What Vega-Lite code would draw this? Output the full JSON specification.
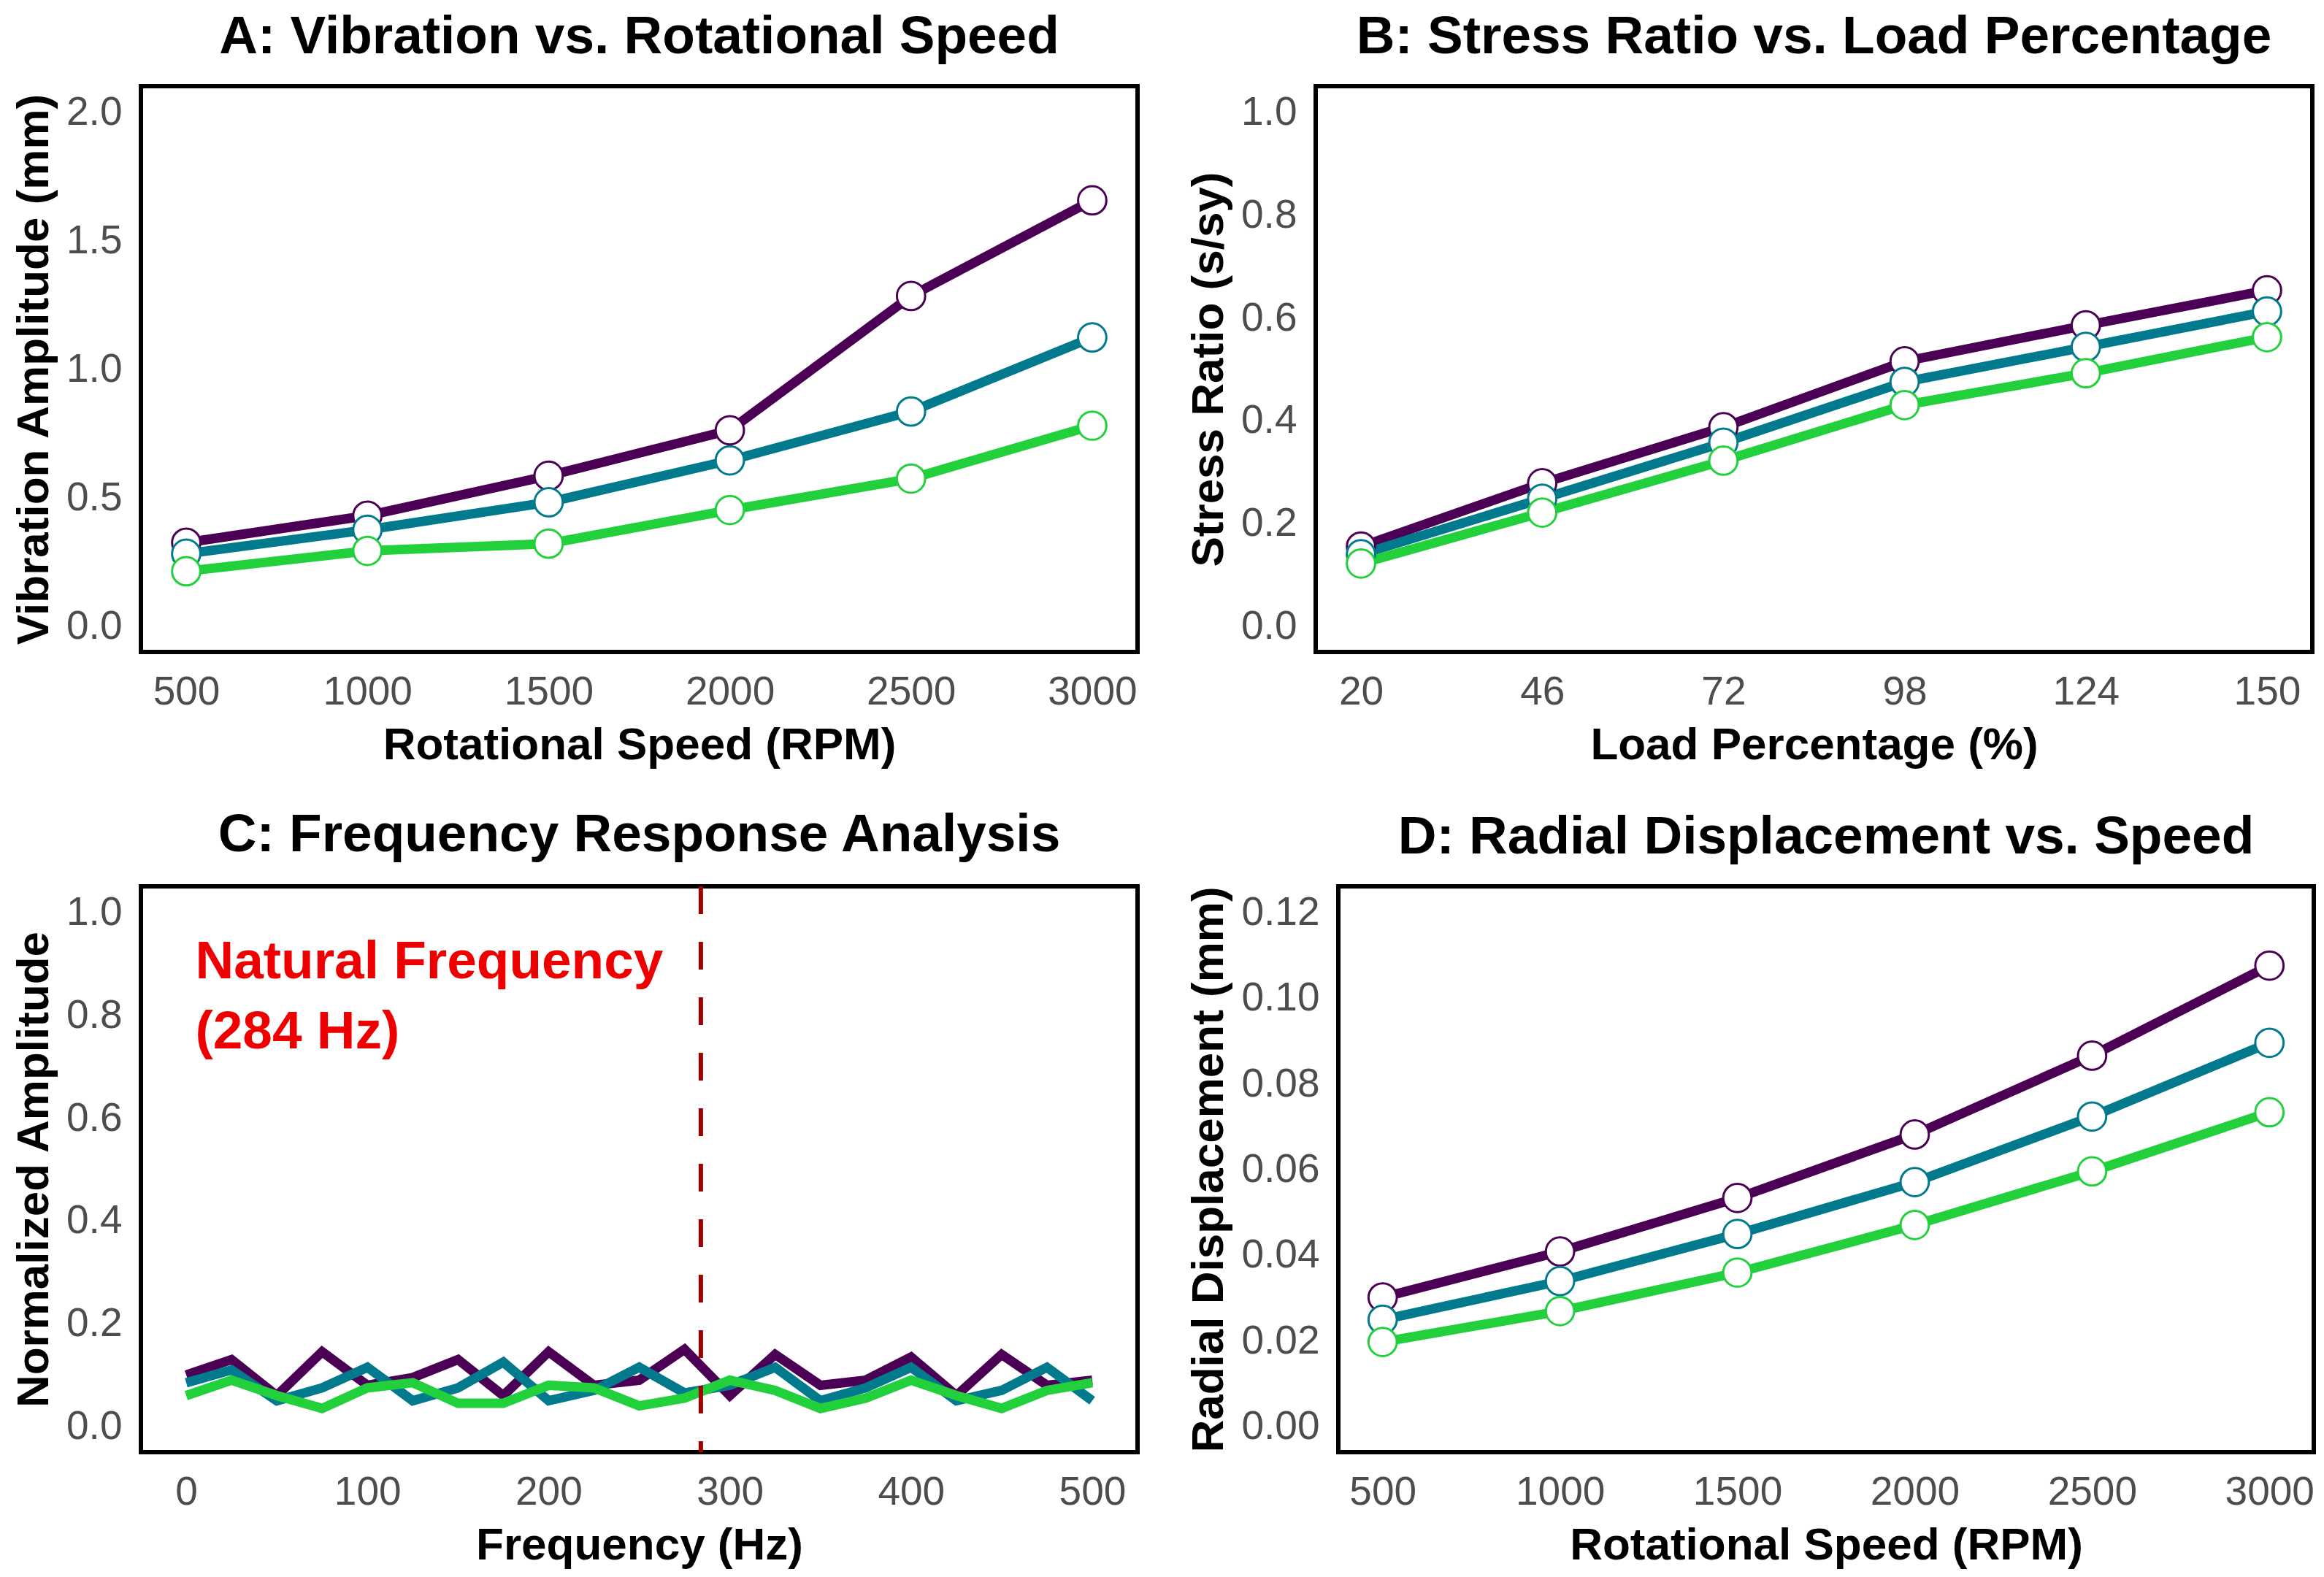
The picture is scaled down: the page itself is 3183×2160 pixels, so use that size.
{
  "$schema": "https://vega.github.io/schema/vega-lite/v6.json",
  "background": "white",
  "padding": {"left": 12, "top": 12, "right": 12, "bottom": 8},
  "datasets": {
    "vib": [
      {"rpm": 500, "amp": 0.325, "s": "S1"}, {"rpm": 1000, "amp": 0.43, "s": "S1"}, {"rpm": 1500, "amp": 0.585, "s": "S1"},
      {"rpm": 2000, "amp": 0.762, "s": "S1"}, {"rpm": 2500, "amp": 1.284, "s": "S1"}, {"rpm": 3000, "amp": 1.656, "s": "S1"},
      {"rpm": 500, "amp": 0.282, "s": "S2"}, {"rpm": 1000, "amp": 0.375, "s": "S2"}, {"rpm": 1500, "amp": 0.482, "s": "S2"},
      {"rpm": 2000, "amp": 0.645, "s": "S2"}, {"rpm": 2500, "amp": 0.835, "s": "S2"}, {"rpm": 3000, "amp": 1.123, "s": "S2"},
      {"rpm": 500, "amp": 0.214, "s": "S3"}, {"rpm": 1000, "amp": 0.293, "s": "S3"}, {"rpm": 1500, "amp": 0.321, "s": "S3"},
      {"rpm": 2000, "amp": 0.452, "s": "S3"}, {"rpm": 2500, "amp": 0.574, "s": "S3"}, {"rpm": 3000, "amp": 0.78, "s": "S3"}
    ],
    "stress": [
      {"load": 20, "ratio": 0.155, "s": "S1"}, {"load": 46, "ratio": 0.278, "s": "S1"}, {"load": 72, "ratio": 0.387, "s": "S1"},
      {"load": 98, "ratio": 0.515, "s": "S1"}, {"load": 124, "ratio": 0.585, "s": "S1"}, {"load": 150, "ratio": 0.653, "s": "S1"},
      {"load": 20, "ratio": 0.14, "s": "S2"}, {"load": 46, "ratio": 0.248, "s": "S2"}, {"load": 72, "ratio": 0.357, "s": "S2"},
      {"load": 98, "ratio": 0.475, "s": "S2"}, {"load": 124, "ratio": 0.543, "s": "S2"}, {"load": 150, "ratio": 0.612, "s": "S2"},
      {"load": 20, "ratio": 0.122, "s": "S3"}, {"load": 46, "ratio": 0.221, "s": "S3"}, {"load": 72, "ratio": 0.322, "s": "S3"},
      {"load": 98, "ratio": 0.43, "s": "S3"}, {"load": 124, "ratio": 0.492, "s": "S3"}, {"load": 150, "ratio": 0.562, "s": "S3"}
    ],
    "freq": [
      {"hz": 0, "a": 0.10, "s": "S1"}, {"hz": 25, "a": 0.13, "s": "S1"}, {"hz": 50, "a": 0.06, "s": "S1"}, {"hz": 75, "a": 0.145, "s": "S1"},
      {"hz": 100, "a": 0.08, "s": "S1"}, {"hz": 125, "a": 0.095, "s": "S1"}, {"hz": 150, "a": 0.13, "s": "S1"}, {"hz": 175, "a": 0.06, "s": "S1"},
      {"hz": 200, "a": 0.145, "s": "S1"}, {"hz": 225, "a": 0.08, "s": "S1"}, {"hz": 250, "a": 0.09, "s": "S1"}, {"hz": 275, "a": 0.15, "s": "S1"},
      {"hz": 300, "a": 0.06, "s": "S1"}, {"hz": 325, "a": 0.14, "s": "S1"}, {"hz": 350, "a": 0.08, "s": "S1"}, {"hz": 375, "a": 0.09, "s": "S1"},
      {"hz": 400, "a": 0.135, "s": "S1"}, {"hz": 425, "a": 0.06, "s": "S1"}, {"hz": 450, "a": 0.14, "s": "S1"}, {"hz": 475, "a": 0.08, "s": "S1"},
      {"hz": 500, "a": 0.09, "s": "S1"},
      {"hz": 0, "a": 0.085, "s": "S2"}, {"hz": 25, "a": 0.11, "s": "S2"}, {"hz": 50, "a": 0.05, "s": "S2"}, {"hz": 75, "a": 0.075, "s": "S2"},
      {"hz": 100, "a": 0.115, "s": "S2"}, {"hz": 125, "a": 0.05, "s": "S2"}, {"hz": 150, "a": 0.075, "s": "S2"}, {"hz": 175, "a": 0.125, "s": "S2"},
      {"hz": 200, "a": 0.05, "s": "S2"}, {"hz": 225, "a": 0.07, "s": "S2"}, {"hz": 250, "a": 0.115, "s": "S2"}, {"hz": 275, "a": 0.065, "s": "S2"},
      {"hz": 300, "a": 0.08, "s": "S2"}, {"hz": 325, "a": 0.115, "s": "S2"}, {"hz": 350, "a": 0.05, "s": "S2"}, {"hz": 375, "a": 0.075, "s": "S2"},
      {"hz": 400, "a": 0.115, "s": "S2"}, {"hz": 425, "a": 0.05, "s": "S2"}, {"hz": 450, "a": 0.07, "s": "S2"}, {"hz": 475, "a": 0.115, "s": "S2"},
      {"hz": 500, "a": 0.05, "s": "S2"},
      {"hz": 0, "a": 0.06, "s": "S3"}, {"hz": 25, "a": 0.09, "s": "S3"}, {"hz": 50, "a": 0.06, "s": "S3"}, {"hz": 75, "a": 0.035, "s": "S3"},
      {"hz": 100, "a": 0.075, "s": "S3"}, {"hz": 125, "a": 0.085, "s": "S3"}, {"hz": 150, "a": 0.045, "s": "S3"}, {"hz": 175, "a": 0.045, "s": "S3"},
      {"hz": 200, "a": 0.08, "s": "S3"}, {"hz": 225, "a": 0.075, "s": "S3"}, {"hz": 250, "a": 0.04, "s": "S3"}, {"hz": 275, "a": 0.055, "s": "S3"},
      {"hz": 300, "a": 0.09, "s": "S3"}, {"hz": 325, "a": 0.07, "s": "S3"}, {"hz": 350, "a": 0.035, "s": "S3"}, {"hz": 375, "a": 0.055, "s": "S3"},
      {"hz": 400, "a": 0.09, "s": "S3"}, {"hz": 425, "a": 0.06, "s": "S3"}, {"hz": 450, "a": 0.035, "s": "S3"}, {"hz": 475, "a": 0.07, "s": "S3"},
      {"hz": 500, "a": 0.085, "s": "S3"}
    ],
    "natural": [
      {"hz": 284, "label": "Natural Frequency\n(284 Hz)", "lx": 5, "ly": 0.902}
    ],
    "radial": [
      {"rpm": 500, "disp": 0.0301, "s": "S1"}, {"rpm": 1000, "disp": 0.0408, "s": "S1"}, {"rpm": 1500, "disp": 0.0533, "s": "S1"},
      {"rpm": 2000, "disp": 0.0681, "s": "S1"}, {"rpm": 2500, "disp": 0.0865, "s": "S1"}, {"rpm": 3000, "disp": 0.1075, "s": "S1"},
      {"rpm": 500, "disp": 0.0249, "s": "S2"}, {"rpm": 1000, "disp": 0.0339, "s": "S2"}, {"rpm": 1500, "disp": 0.0449, "s": "S2"},
      {"rpm": 2000, "disp": 0.057, "s": "S2"}, {"rpm": 2500, "disp": 0.0723, "s": "S2"}, {"rpm": 3000, "disp": 0.0895, "s": "S2"},
      {"rpm": 500, "disp": 0.0197, "s": "S3"}, {"rpm": 1000, "disp": 0.0269, "s": "S3"}, {"rpm": 1500, "disp": 0.0359, "s": "S3"},
      {"rpm": 2000, "disp": 0.047, "s": "S3"}, {"rpm": 2500, "disp": 0.0595, "s": "S3"}, {"rpm": 3000, "disp": 0.0733, "s": "S3"}
    ]
  },
  "vconcat": [
    {
      "hconcat": [
        {
          "title": "A: Vibration vs. Rotational Speed",
          "width": 1365, "height": 775,
          "data": {"name": "vib"},
          "encoding": {
            "x": {"field": "rpm", "type": "quantitative", "title": "Rotational Speed (RPM)",
                  "scale": {"domain": [375, 3125], "nice": false, "zero": false},
                  "axis": {"values": [500, 1000, 1500, 2000, 2500, 3000], "format": "d"}},
            "y": {"field": "amp", "type": "quantitative", "title": "Vibration Amplitude (mm)",
                  "scale": {"domain": [-0.1, 2.1], "nice": false, "zero": false},
                  "axis": {"values": [0, 0.5, 1, 1.5, 2], "format": ".1f"}},
            "color": {"field": "s", "type": "nominal", "legend": null,
                      "scale": {"domain": ["S1", "S2", "S3"], "range": ["#4B0055", "#007A8C", "#22D03C"]}}
          },
          "layer": [
            {"mark": {"type": "line", "strokeWidth": 13}},
            {"mark": {"type": "point", "shape": "circle", "filled": false, "fill": "white", "fillOpacity": 1, "size": 1500, "strokeWidth": 3, "opacity": 1}}
          ]
        },
        {
          "title": "B: Stress Ratio vs. Load Percentage",
          "width": 1365, "height": 775,
          "data": {"name": "stress"},
          "encoding": {
            "x": {"field": "load", "type": "quantitative", "title": "Load Percentage (%)",
                  "scale": {"domain": [13.5, 156.5], "nice": false, "zero": false},
                  "axis": {"values": [20, 46, 72, 98, 124, 150], "format": "d"}},
            "y": {"field": "ratio", "type": "quantitative", "title": "Stress Ratio (s/sy)",
                  "scale": {"domain": [-0.05, 1.05], "nice": false, "zero": false},
                  "axis": {"values": [0, 0.2, 0.4, 0.6, 0.8, 1], "format": ".1f"}},
            "color": {"field": "s", "type": "nominal", "legend": null,
                      "scale": {"domain": ["S1", "S2", "S3"], "range": ["#4B0055", "#007A8C", "#22D03C"]}}
          },
          "layer": [
            {"mark": {"type": "line", "strokeWidth": 13}},
            {"mark": {"type": "point", "shape": "circle", "filled": false, "fill": "white", "fillOpacity": 1, "size": 1500, "strokeWidth": 3, "opacity": 1}}
          ]
        }
      ]
    },
    {
      "hconcat": [
        {
          "title": "C: Frequency Response Analysis",
          "width": 1365, "height": 775,
          "layer": [
            {
              "data": {"name": "freq"},
              "mark": {"type": "line", "strokeWidth": 13},
              "encoding": {
                "x": {"field": "hz", "type": "quantitative", "title": "Frequency (Hz)",
                      "scale": {"domain": [-25, 525], "nice": false, "zero": false},
                      "axis": {"values": [0, 100, 200, 300, 400, 500], "format": "d"}},
                "y": {"field": "a", "type": "quantitative", "title": "Normalized Amplitude",
                      "scale": {"domain": [-0.05, 1.05], "nice": false, "zero": false},
                      "axis": {"values": [0, 0.2, 0.4, 0.6, 0.8, 1], "format": ".1f"}},
                "color": {"field": "s", "type": "nominal", "legend": null,
                          "scale": {"domain": ["S1", "S2", "S3"], "range": ["#4B0055", "#007A8C", "#22D03C"]}}
              }
            },
            {
              "data": {"name": "natural"},
              "mark": {"type": "rule", "color": "#A00000", "strokeWidth": 6, "strokeDash": [38, 38]},
              "encoding": {"x": {"field": "hz", "type": "quantitative"}}
            },
            {
              "data": {"name": "natural"},
              "mark": {"type": "text", "color": "#EE0000", "font": "Liberation Sans", "fontWeight": "bold", "fontSize": 73,
                       "align": "left", "baseline": "middle", "lineBreak": "\n", "lineHeight": 96},
              "encoding": {
                "x": {"field": "lx", "type": "quantitative"},
                "y": {"field": "ly", "type": "quantitative"},
                "text": {"field": "label"}
              }
            }
          ]
        },
        {
          "title": "D: Radial Displacement vs. Speed",
          "width": 1336, "height": 775,
          "data": {"name": "radial"},
          "encoding": {
            "x": {"field": "rpm", "type": "quantitative", "title": "Rotational Speed (RPM)",
                  "scale": {"domain": [375, 3125], "nice": false, "zero": false},
                  "axis": {"values": [500, 1000, 1500, 2000, 2500, 3000], "format": "d"}},
            "y": {"field": "disp", "type": "quantitative", "title": "Radial Displacement (mm)",
                  "scale": {"domain": [-0.006, 0.126], "nice": false, "zero": false},
                  "axis": {"values": [0, 0.02, 0.04, 0.06, 0.08, 0.1, 0.12], "format": ".2f"}},
            "color": {"field": "s", "type": "nominal", "legend": null,
                      "scale": {"domain": ["S1", "S2", "S3"], "range": ["#4B0055", "#007A8C", "#22D03C"]}}
          },
          "layer": [
            {"mark": {"type": "line", "strokeWidth": 13}},
            {"mark": {"type": "point", "shape": "circle", "filled": false, "fill": "white", "fillOpacity": 1, "size": 1500, "strokeWidth": 3, "opacity": 1}}
          ]
        }
      ]
    }
  ],
  "resolve": {"scale": {"color": "independent"}},
  "spacing": 51,
  "config": {
    "concat": {"spacing": 60},
    "view": {"stroke": "black", "strokeWidth": 6},
    "font": "Liberation Sans",
    "axis": {
      "grid": false, "ticks": false, "domain": false,
      "labelFont": "Liberation Sans", "labelFontSize": 55, "labelColor": "#4D4D4D",
      "titleFont": "Liberation Sans", "titleFontSize": 62, "titleFontWeight": "bold", "titleColor": "black"
    },
    "axisX": {"labelPadding": 28, "titlePadding": 15},
    "axisY": {"labelPadding": 26, "titlePadding": 12},
    "title": {"font": "Liberation Sans", "fontSize": 73, "fontWeight": "bold", "color": "black", "anchor": "middle", "offset": 30}
  }
}
